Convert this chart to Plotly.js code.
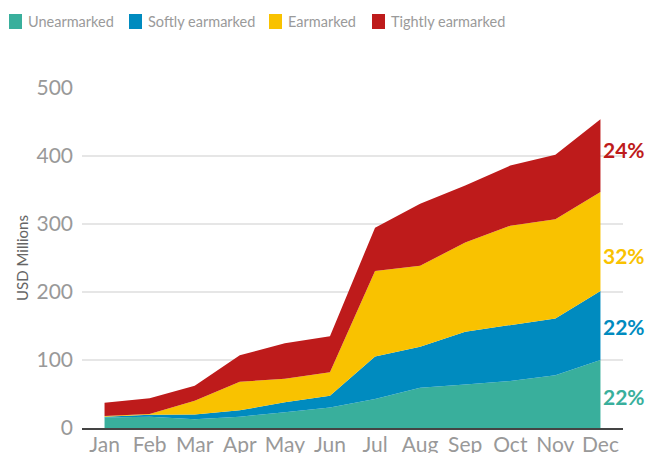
<!DOCTYPE html>
<html><head><meta charset="utf-8">
<script src="https://cdn.plot.ly/plotly-3.0.1.min.js"></script>
<style>html,body{margin:0;padding:0;background:#fff}#chart{width:649px;height:453px}</style>
</head><body><div id="chart"></div>
<script>
const months = ["Jan","Feb","Mar","Apr","May","Jun","Jul","Aug","Sep","Oct","Nov","Dec"];
const seriesNames = ["Unearmarked","Softly earmarked","Earmarked","Tightly earmarked"];
const unearmarked = [15.5, 16.7, 12.7, 16.7, 23, 30, 42.6, 59.3, 64, 69, 77.5, 100];
const softly      = [1, 2.9, 7.3, 9.3, 15, 17.5, 62.4, 60.3, 77.7, 82.5, 83.5, 101.5];
const earmarked   = [1.1, 1, 20, 42, 34.5, 34.5, 126, 119, 131, 146, 146, 145.5];
const tightly     = [19.4, 23, 22, 39, 52, 53, 63.6, 91.3, 84, 88.5, 95, 107];
const shareLabels = ["22%","22%","32%","24%"];
const shareLabelY = [47, 150, 253, 409];
const yTicks = [0,100,200,300,400,500];

const colors = ["#39AF9C","#008BBF","#F9C200","#BE1B1B"];
const values = [unearmarked, softly, earmarked, tightly];

const traces = values.map((v,i)=>({
  type:'scatter', mode:'lines', x:months, y:v, stackgroup:'one',
  name:seriesNames[i], line:{width:0, color:colors[i]}, fillcolor:colors[i],
  showlegend:false, hoverinfo:'skip'
}));

const L=82, R=623, T=88, B=428, W=649, H=453;
const px=(x)=>(x-L)/(R-L);
const py=(y)=>(B-y)/(B-T);

const fontFam = "Lato, 'Open Sans', sans-serif";
const annotations = shareLabels.map((t,i)=>({
  x:months[11], y:shareLabelY[i], xref:'x', yref:'y', text:'<b>'+t+'</b>',
  showarrow:false, xanchor:'left', xshift:1,
  font:{family:fontFam, size:21, color:colors[i]}
}));
const legendX = [9, 129, 269, 372];
const shapes = [];
seriesNames.forEach((n,i)=>{
  shapes.push({type:'rect', xref:'paper', yref:'paper',
    x0:px(legendX[i]), x1:px(legendX[i]+13), y0:py(29), y1:py(14),
    fillcolor:colors[i], line:{width:0}});
  annotations.push({xref:'paper', yref:'paper', x:px(legendX[i]+17), y:py(21.5),
    text:n, showarrow:false, xanchor:'left', yanchor:'middle',
    font:{family:fontFam, size:14.5, color:'#9a9a9a'}});
});

const layout = {
  width:W, height:H, margin:{l:L, r:W-R, t:T, b:H-B},
  paper_bgcolor:'#fff', plot_bgcolor:'#fff', showlegend:false,
  font:{family:fontFam},
  xaxis:{type:'category', range:[-0.5,11.5], showgrid:false, zeroline:false,
    showline:true, linecolor:'#444', linewidth:1.5, ticks:'', ticklabelstandoff:-3,
    tickfont:{family:fontFam, size:21, color:'#999'}, fixedrange:true},
  yaxis:{range:[0,500], tickvals:yTicks, showgrid:true, gridcolor:'#e6e6e6', gridwidth:1.5,
    zeroline:false, showline:false, ticks:'', ticklabelstandoff:8,
    tickfont:{family:fontFam, size:21, color:'#999'},
    title:{text:'USD Millions', font:{family:fontFam, size:15, color:'#666'}, standoff:4}},
  shapes:shapes, annotations:annotations
};
Plotly.newPlot('chart', traces, layout, {displayModeBar:false, staticPlot:true});
</script></body></html>
